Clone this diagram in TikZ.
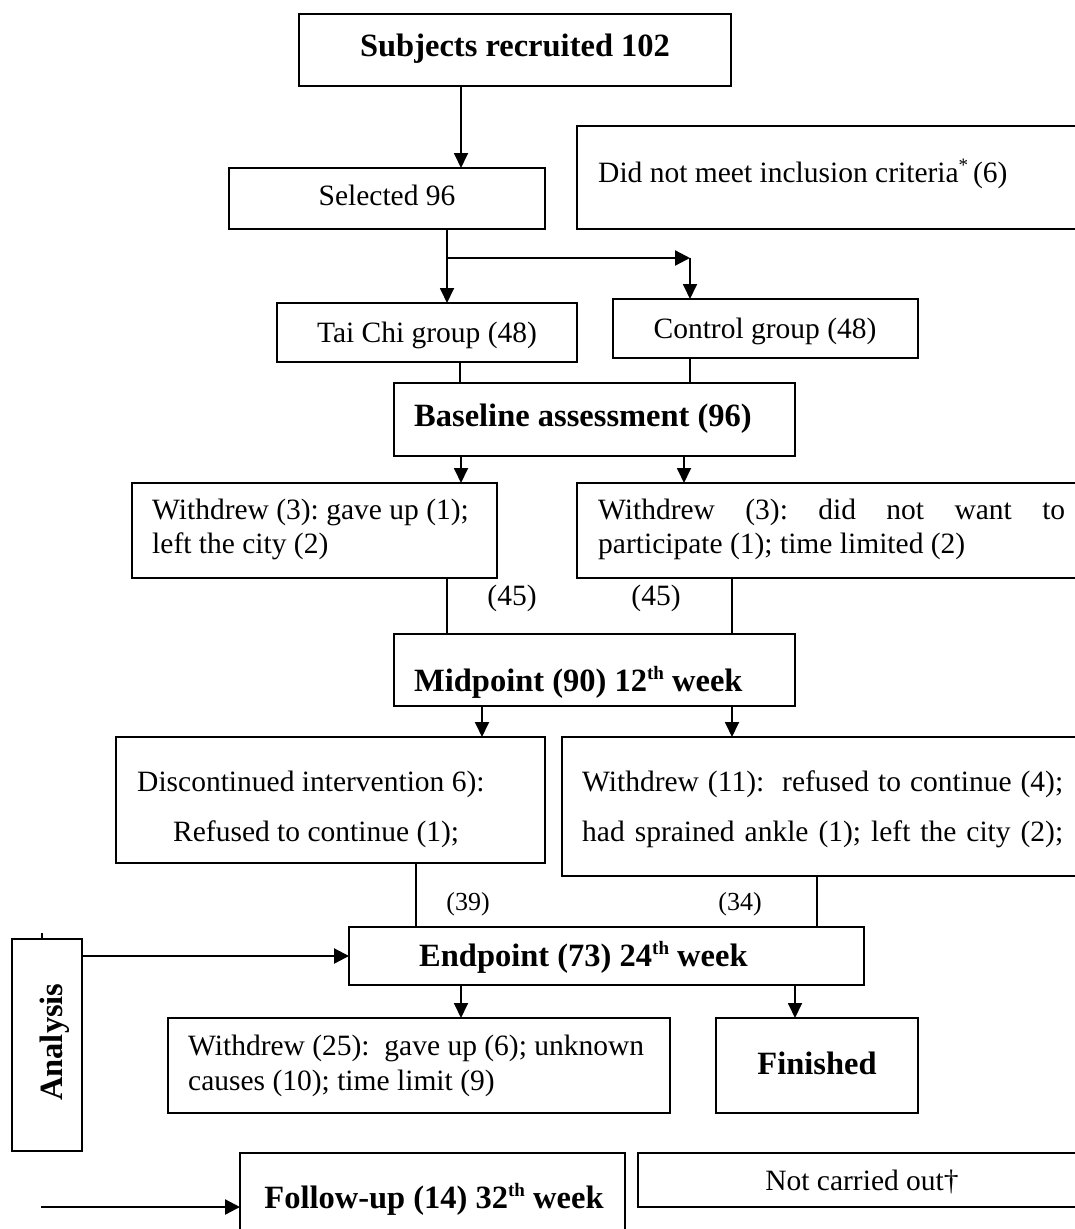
\documentclass[tikz,border=0pt]{standalone}
\usepackage{fontspec}
\setmainfont{Liberation Serif}
\usetikzlibrary{arrows.meta}
\frenchspacing
\tikzset{
  boxst/.style={draw, line width=1.8pt, inner sep=0pt, outer sep=0pt},
  arr/.style={line width=1.8pt, -{Triangle[length=15pt,width=14pt]}},
  arrthick/.style={line width=2.3pt, -{Triangle[length=15pt,width=15pt]}},
  plainln/.style={line width=1.3pt},
  reg/.style={font=\fontsize{29.5}{36}\selectfont, inner sep=0pt},
  regsmall/.style={font=\fontsize{26}{30}\selectfont, inner sep=0pt},
  bld/.style={font=\fontsize{32.5}{38}\selectfont\bfseries, inner sep=0pt},
}
\newcommand\bx[5]{\node[boxst, minimum width={(#4)-(#2)}, minimum height={(#5)-(#3)}] (#1) at ({((#2)+(#4))/2},{((#3)+(#5))/2}) {};}
\newcommand\mysup[1]{\raisebox{0.8ex}{\fontsize{19}{19}\selectfont #1}}
\begin{document}
\begin{tikzpicture}[x=1pt,y=-1pt]
\useasboundingbox (0,0) rectangle (1074,1229);
% boxes
\bx{sub}{299}{14}{731}{86}
\bx{sel}{229}{168}{545}{229}
\bx{dnm}{577}{126}{1100}{229}
\bx{tai}{277}{303}{577}{362}
\bx{con}{613}{299}{918}{358}
\bx{base}{394}{383}{795}{456}
\bx{wl}{132}{483}{497}{578}
\bx{wr}{577}{483}{1100}{578}
\bx{mid}{394}{634}{795}{706}
\bx{disc}{116}{737}{545}{863}
\bx{wel}{562}{737}{1100}{876}
\bx{end}{349}{927}{864}{985}
\bx{ana}{12}{939}{82}{1151}
\bx{wtf}{168}{1018}{670}{1113}
\bx{fin}{716}{1018}{918}{1113}
\bx{fol}{240}{1153}{625}{1260}
\bx{nco}{638}{1153}{1100}{1207}
% helper x positions
\coordinate (c461) at (461,0);
\coordinate (c447) at (447,0);
\coordinate (c690) at (690,0);
\coordinate (c460) at (460,0);
\coordinate (c684) at (684,0);
\coordinate (c732) at (732,0);
\coordinate (c482) at (482,0);
\coordinate (c416) at (416,0);
\coordinate (c817) at (817,0);
\coordinate (c795) at (795,0);
\coordinate (br) at (447,258);
\coordinate (tk) at (42,933);
\coordinate (fa) at (41,1207);
% connectors
\draw[arr] (sub.south -| c461) -- (sel.north -| c461);
\draw[arr] (sel.south -| c447) -- (tai.north -| c447);
\draw[arrthick] (br) -- (br -| c690);
\draw[arr] (br -| c690) -- (con.north -| c690);
\draw[plainln] (tai.south -| c460) -- (base.north -| c460);
\draw[plainln] (con.south -| c690) -- (base.north -| c690);
\draw[arr] (base.south -| c461) -- (wl.north -| c461);
\draw[arr] (base.south -| c684) -- (wr.north -| c684);
\draw[plainln] (wl.south -| c447) -- (mid.north -| c447);
\draw[plainln] (wr.south -| c732) -- (mid.north -| c732);
\draw[arr] (mid.south -| c482) -- (disc.north -| c482);
\draw[arr] (mid.south -| c732) -- (wel.north -| c732);
\draw[plainln] (disc.south -| c416) -- (end.north -| c416);
\draw[plainln] (wel.south -| c817) -- (end.north -| c817);
\draw[arrthick] (ana.east |- end.west) -- (end.west);
\draw[arr] (end.south -| c461) -- (wtf.north -| c461);
\draw[arr] (end.south -| c795) -- (fin.north -| c795);
\draw[plainln] (tk) -- (ana.north -| tk);
\draw[arrthick] (fa) -- (fa -| fol.west);
% texts
\node[bld, anchor=base] (tsub) at (515,56) {Subjects recruited 102};
\node[reg, anchor=base] (tsel) at (387,205) {Selected 96};
\node[reg, anchor=base west] (tdnm) at (598,182) {Did not meet inclusion criteria\mysup{*}\,(6)};
\node[reg, anchor=base] (ttai) at (427,342) {Tai Chi group (48)};
\node[reg, anchor=base] (tcon) at (765,338) {Control group (48)};
\node[bld, anchor=base west] (tbase) at (414,426) {Baseline assessment (96)};
\node[reg, anchor=base west] (twl1) at (152,519) {Withdrew (3): gave up (1);};
\node[reg, anchor=base west] (twl2) at (152,553) {left the city (2)};
\node[reg, anchor=base west] (twr1) at (598,519) {\makebox[467pt][s]{Withdrew (3): did not want to}};
\node[reg, anchor=base west] (twr2) at (598,553) {participate (1); time limited (2)};
\node[reg, anchor=base] (tfa) at (512,605) {(45)};
\node[reg, anchor=base] (tfb) at (656,605) {(45)};
\node[bld, anchor=base west] (tmid) at (414,691) {Midpoint (90) 12\mysup{th} week};
\node[reg, anchor=base west] (tdi1) at (137,791) {Discontinued intervention 6):};
\node[reg, anchor=base west] (tdi2) at (173,841) {Refused to continue (1);};
\node[reg, anchor=base west] (twe1) at (582,791) {\makebox[481pt][s]{Withdrew (11):\ \ refused to continue (4);}};
\node[reg, anchor=base west] (twe2) at (582,841) {\makebox[481pt][s]{had sprained ankle (1); left the city (2);}};
\node[regsmall, anchor=base] (tn39) at (468,910) {(39)};
\node[regsmall, anchor=base] (tn34) at (740,910) {(34)};
\node[bld, anchor=base west] (tend) at (419,966) {Endpoint (73) 24\mysup{th} week};
\node[reg, anchor=base west] (twt1) at (188,1055) {Withdrew (25):\ \ gave up (6); unknown};
\node[reg, anchor=base west] (twt2) at (188,1090) {causes (10); time limit (9)};
\node[bld, anchor=base] (tfin) at (817,1074) {Finished};
\node[bld, anchor=base] (tfol) at (434,1208) {Follow-up (14) 32\mysup{th} week};
\node[reg, anchor=base] (tnco) at (862,1190) {Not carried out†};
\node[bld, rotate=90, anchor=base west] (tana) at (62,1101) {Analysis};
\end{tikzpicture}
\end{document}
